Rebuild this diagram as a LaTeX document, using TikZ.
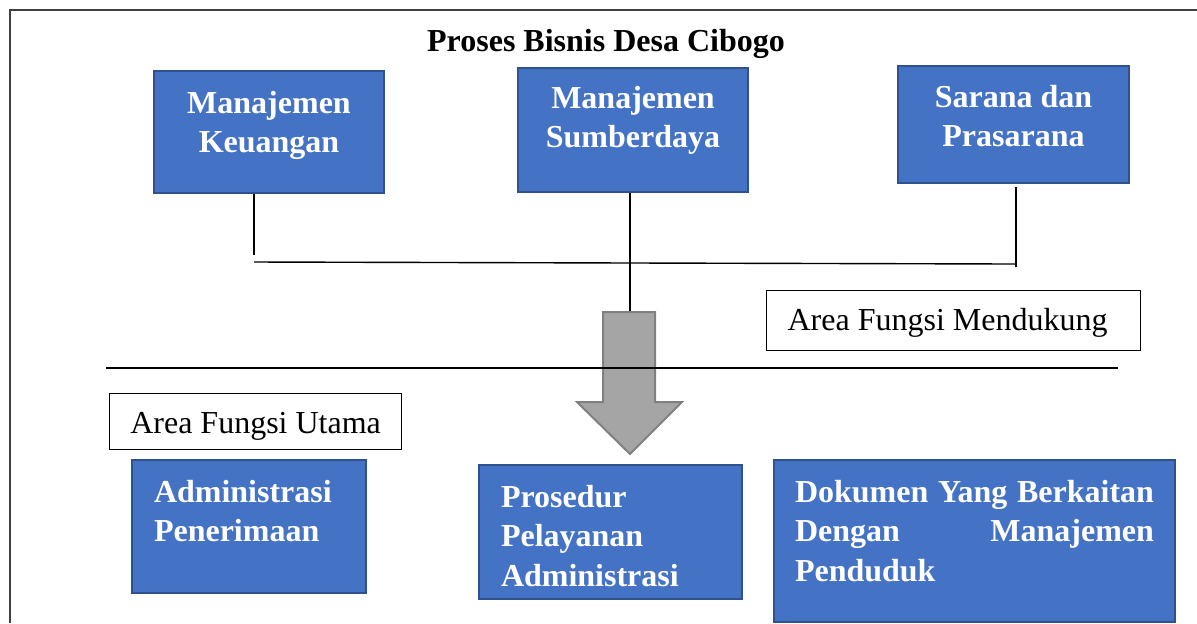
\documentclass[tikz,border=0pt]{standalone}
\usepackage{fontspec}
\setmainfont{Liberation Serif}
\usepackage{tikz}
\usetikzlibrary{positioning}
\hyphenpenalty=10000
\exhyphenpenalty=10000
\definecolor{boxfill}{RGB}{68,114,196}
\definecolor{boxline}{RGB}{47,82,143}
\definecolor{arrowfill}{RGB}{165,165,165}
\definecolor{arrowline}{RGB}{128,128,128}
\tikzset{
  bluebox/.style={
      rectangle,
      anchor=north west,
      inner xsep=11pt,
      inner ysep=0pt,
      line width=1pt,
      draw=boxline,
      fill=boxfill,
      text=white,
      font=\bfseries\fontsize{16}{19.75}\selectfont
  },
  areabox/.style={
      rectangle,
      anchor=north west,
      inner xsep=10.5pt,
      inner ysep=0pt,
      draw=black,
      line width=0.6pt,
      align=flush left,
      text height=20pt,
      font=\fontsize{16}{19.75}\selectfont
  },
  conn/.style={black, line width=0.7pt}
}
\begin{document}
\begin{tikzpicture}[x=0.5pt,y=-0.5pt]
    \useasboundingbox (0,0) rectangle (1197,623);
    \draw[black!75, line width=1pt] (10,623) -- (10,10) -- (1197,10);
    \node[anchor=base, font=\bfseries\fontsize{16}{20}\selectfont] (judul) at (606,51) {Proses Bisnis Desa Cibogo};
    \node[bluebox, text width=93pt, align=flush center, text height=21pt, text depth=40pt] (keuangan) at (153,70) {Manajemen Keuangan};
    \node[bluebox, text width=93pt, align=flush center, text height=20pt, text depth=42pt] (sumberdaya) at (517,67) {Manajemen Sumberdaya};
    \node[bluebox, text width=93.5pt, align=flush center, text height=20.5pt, text depth=38pt] (sarana) at (897,65) {Sarana dan Prasarana};
    \node[bluebox, text width=95pt, align=flush left, text height=21pt, text depth=45.5pt] (penerimaan) at (131,459) {Administrasi Penerimaan};
    \node[bluebox, text width=109.5pt, align=flush left, text height=21pt, text depth=46pt] (prosedur) at (478,464) {Prosedur Pelayanan Administrasi};
    \node[bluebox, inner xsep=10.5pt, text width=179.5pt, align=justify, text height=21pt, text depth=60pt] (dokumen) at (773,459) {Dokumen Yang Berkaitan\linebreak Dengan Manajemen\linebreak Penduduk};
    \node[areabox, text width=166pt, text depth=10pt] (mendukung) at (766,290) {Area Fungsi Mendukung};
    \node[areabox, inner xsep=0pt, minimum width=146pt, text depth=8pt] (utama) at (109,393) {Area Fungsi Utama};
    \coordinate (kiri) at (254,262);
    \coordinate (kanan) at (1016,264);
    \coordinate (flowtop) at (630,312);
    \draw[conn] (keuangan.south -| kiri) -- (254,255);
    \draw[conn] (kiri) -- (kanan);
    \draw[conn] (sarana.south -| kanan) ++(0,3) -- ([yshift=-1.5pt]kanan);
    \draw[conn] (sumberdaya.south -| flowtop) -- (flowtop);
    \draw[arrowline, fill=arrowfill, line width=1pt] (603,312) -- (655,312) -- (655,402) -- (682,402)
      -- (630,454) -- (577,402) -- (603,402) -- cycle;
    \draw[conn] (106,368) -- (1118,368);
\end{tikzpicture}
\end{document}
